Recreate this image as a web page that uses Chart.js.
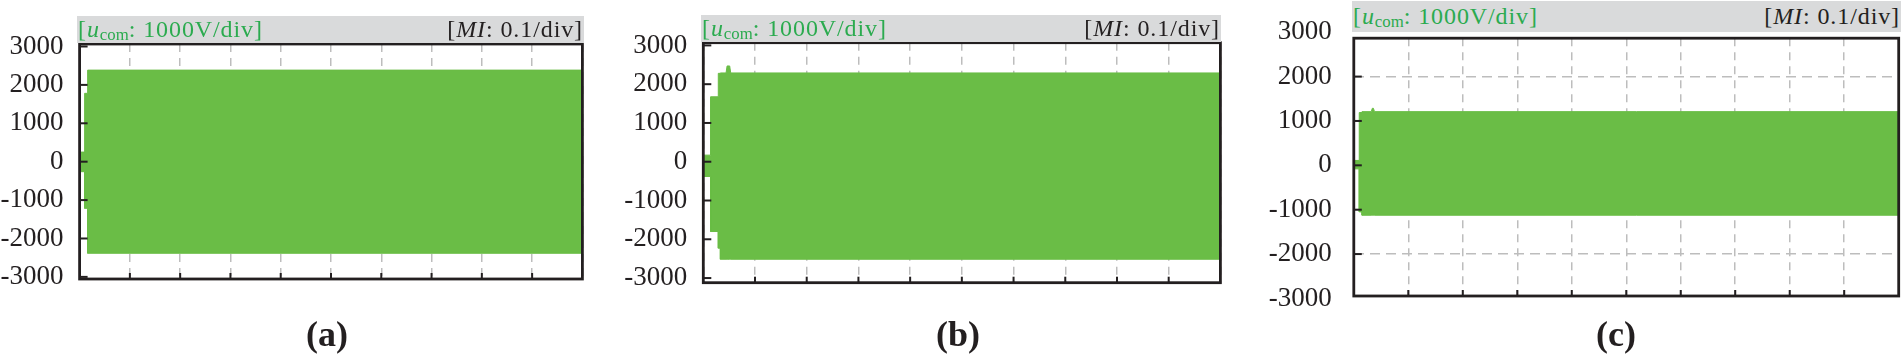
<!DOCTYPE html>
<html>
<head>
<meta charset="utf-8">
<title>Common-mode voltage vs modulation index</title>
<script src="https://cdn.jsdelivr.net/npm/chart.js@4.4.1/dist/chart.umd.min.js"></script>
<style>
  html, body { margin: 0; padding: 0; background: #fff; }
  body { width: 1904px; height: 360px; position: relative; overflow: hidden; font-family: 'Liberation Serif', 'Times New Roman', serif; color: #231f20; }
  .panel { position: absolute; top: 0; height: 360px; }
  .band { position: absolute; background: #d9dadb; font-size: 24px; letter-spacing: 0.9px; white-space: nowrap; z-index: 2; }
  .band .ucom { position: absolute; left: 1px; top: 0; color: #2bab4f; }
  .band .mi { position: absolute; right: 1px; top: 0; color: #231f20; }
  .band sub { font-size: 70%; vertical-align: baseline; position: relative; top: 0.2em; letter-spacing: 0; }
  .caption { position: absolute; top: 312px; font-weight: bold; font-size: 36px; line-height: 44px; transform: translateX(-50%); }
</style>
</head>
<body>

<div class="panel" style="left:0px; width:600px;"><canvas id="chart-a"></canvas></div>
<div class="panel" style="left:620px; width:620px;"><canvas id="chart-b"></canvas></div>
<div class="panel" style="left:1260px; width:644px;"><canvas id="chart-c"></canvas></div>

<div class="band" style="left:77px; top:16px; width:507px; height:27px; line-height:27px;">
  <span class="ucom">[<i>u</i><sub>com</sub>: 1000V/div]</span><span class="mi">[<i>MI</i>: 0.1/div]</span>
</div>
<div class="band" style="left:701px; top:15px; width:520px; height:27px; line-height:27px;">
  <span class="ucom">[<i>u</i><sub>com</sub>: 1000V/div]</span><span class="mi">[<i>MI</i>: 0.1/div]</span>
</div>
<div class="band" style="left:1352px; top:1px; width:549px; height:31px; line-height:31px;">
  <span class="ucom">[<i>u</i><sub>com</sub>: 1000V/div]</span><span class="mi">[<i>MI</i>: 0.1/div]</span>
</div>

<div class="caption" style="left:327px;">(a)</div>
<div class="caption" style="left:958px;">(b)</div>
<div class="caption" style="left:1616px;">(c)</div>

<script>
// y tick labels and x divisions (10 div across)
const yTickValues = [3000, 2000, 1000, 0, -1000, -2000, -3000];
const xDivs = [0, 1, 2, 3, 4, 5, 6, 7, 8, 9, 10];

// envelope of u_com (V) against x in divisions
const aX     = [0,    0.1,  0.1,   0.16,  0.16,  10];
const aUpper = [250,  250,  1780,  1780,  2385,  2385];
const aLower = [-260, -260, -1215, -1215, -2385, -2385];

const bX     = [0,    0.14, 0.14,  0.29,  0.29,  0.33,  0.33,  0.44,  0.46,  0.51,  0.53,  10];
const bUpper = [170,  170,  1675,  1675,  2280,  2280,  2290,  2290,  2470,  2470,  2290,  2290];
const bLower = [-380, -380, -1800, -1800, -2230, -2230, -2515, -2515, -2515, -2515, -2515, -2515];

const cX     = [0,    0.1,  0.1,   0.15,  0.15,  0.32,  0.34,  0.36,  0.38,  10];
const cUpper = [110,  110,  1190,  1190,  1210,  1210,  1285,  1285,  1210,  1210];
const cLower = [-80,  -80,  -1050, -1050, -1125, -1125, -1125, -1125, -1125, -1125];

const GREEN = '#6abd46';
const GRID = '#bdbdbd';
const INK = '#231f20';

// frame around the plot + short inward tick marks
const framePlugin = {
    id: 'frame',
    afterDatasetsDraw(chart) {
        const { ctx, chartArea: a, scales: { x, y } } = chart;
        ctx.save();
        ctx.strokeStyle = INK;
        ctx.lineWidth = 2;
        y.ticks.forEach(t => {
            if (t.value <= y.min || t.value >= y.max) return;
            const py = y.getPixelForValue(t.value);
            ctx.beginPath(); ctx.moveTo(a.left, py); ctx.lineTo(a.left + 8, py); ctx.stroke();
        });
        x.ticks.forEach(t => {
            if (t.value <= x.min || t.value >= x.max) return;
            const px = x.getPixelForValue(t.value);
            ctx.beginPath(); ctx.moveTo(px, a.bottom); ctx.lineTo(px, a.bottom - 6); ctx.stroke();
        });
        ctx.lineWidth = 2.8;
        ctx.strokeRect(a.left, a.top, a.right - a.left, a.bottom - a.top);
        ctx.restore();
    }
};

function makePanel(id, xs, upper, lower, yMin, yMax, showYGrid, labelPad, axisWidth, padding) {
    return new Chart(document.getElementById(id), {
        type: 'line',
        data: {
            datasets: [
                {
                    data: xs.map((x, i) => ({ x: x, y: upper[i] })),
                    borderColor: GREEN, borderWidth: 1, pointRadius: 0, fill: false
                },
                {
                    data: xs.map((x, i) => ({ x: x, y: lower[i] })),
                    borderColor: GREEN, borderWidth: 1, pointRadius: 0,
                    backgroundColor: GREEN, fill: '-1'
                }
            ]
        },
        options: {
            responsive: true,
            maintainAspectRatio: false,
            animation: false,
            layout: { padding: padding },
            elements: { line: { tension: 0 } },
            plugins: { legend: { display: false }, tooltip: { enabled: false } },
            scales: {
                x: {
                    type: 'linear', min: 0, max: 10,
                    afterBuildTicks: s => { s.ticks = xDivs.map(v => ({ value: v })); },
                    afterFit: s => { s.height = 0; },
                    ticks: { display: false },
                    grid: { color: GRID, lineWidth: 1.5, drawTicks: false },
                    border: { display: false, dash: [8, 6] }
                },
                y: {
                    type: 'linear', min: yMin, max: yMax,
                    afterBuildTicks: s => { s.ticks = yTickValues.map(v => ({ value: v })); },
                    afterFit: s => { s.width = axisWidth; },
                    ticks: {
                        autoSkip: false,
                        padding: labelPad,
                        color: INK,
                        font: { family: "'Liberation Serif', 'Times New Roman', serif", size: 27 },
                        callback: v => String(v)
                    },
                    grid: {
                        display: showYGrid,
                        drawTicks: false,
                        lineWidth: 1.5,
                        color: c => (c.tick && c.tick.value > yMin && c.tick.value < yMax) ? GRID : 'rgba(0,0,0,0)'
                    },
                    border: { display: false, dash: [10, 6] }
                }
            }
        },
        plugins: [framePlugin]
    });
}

makePanel('chart-a', aX, aUpper, aLower, -3055, 3065, false, 16, 79.6,
    { left: 0, top: 44, right: 17.6, bottom: 81 });
makePanel('chart-b', bX, bUpper, bLower, -3120, 3070, false, 16, 83.3,
    { left: 0, top: 42.7, right: 19.6, bottom: 77.3 });
makePanel('chart-c', cX, cUpper, cLower, -2945, 2865, true, 22, 93.8,
    { left: 0, top: 32.3, right: 5.3, bottom: 64 });
</script>
</body>
</html>
